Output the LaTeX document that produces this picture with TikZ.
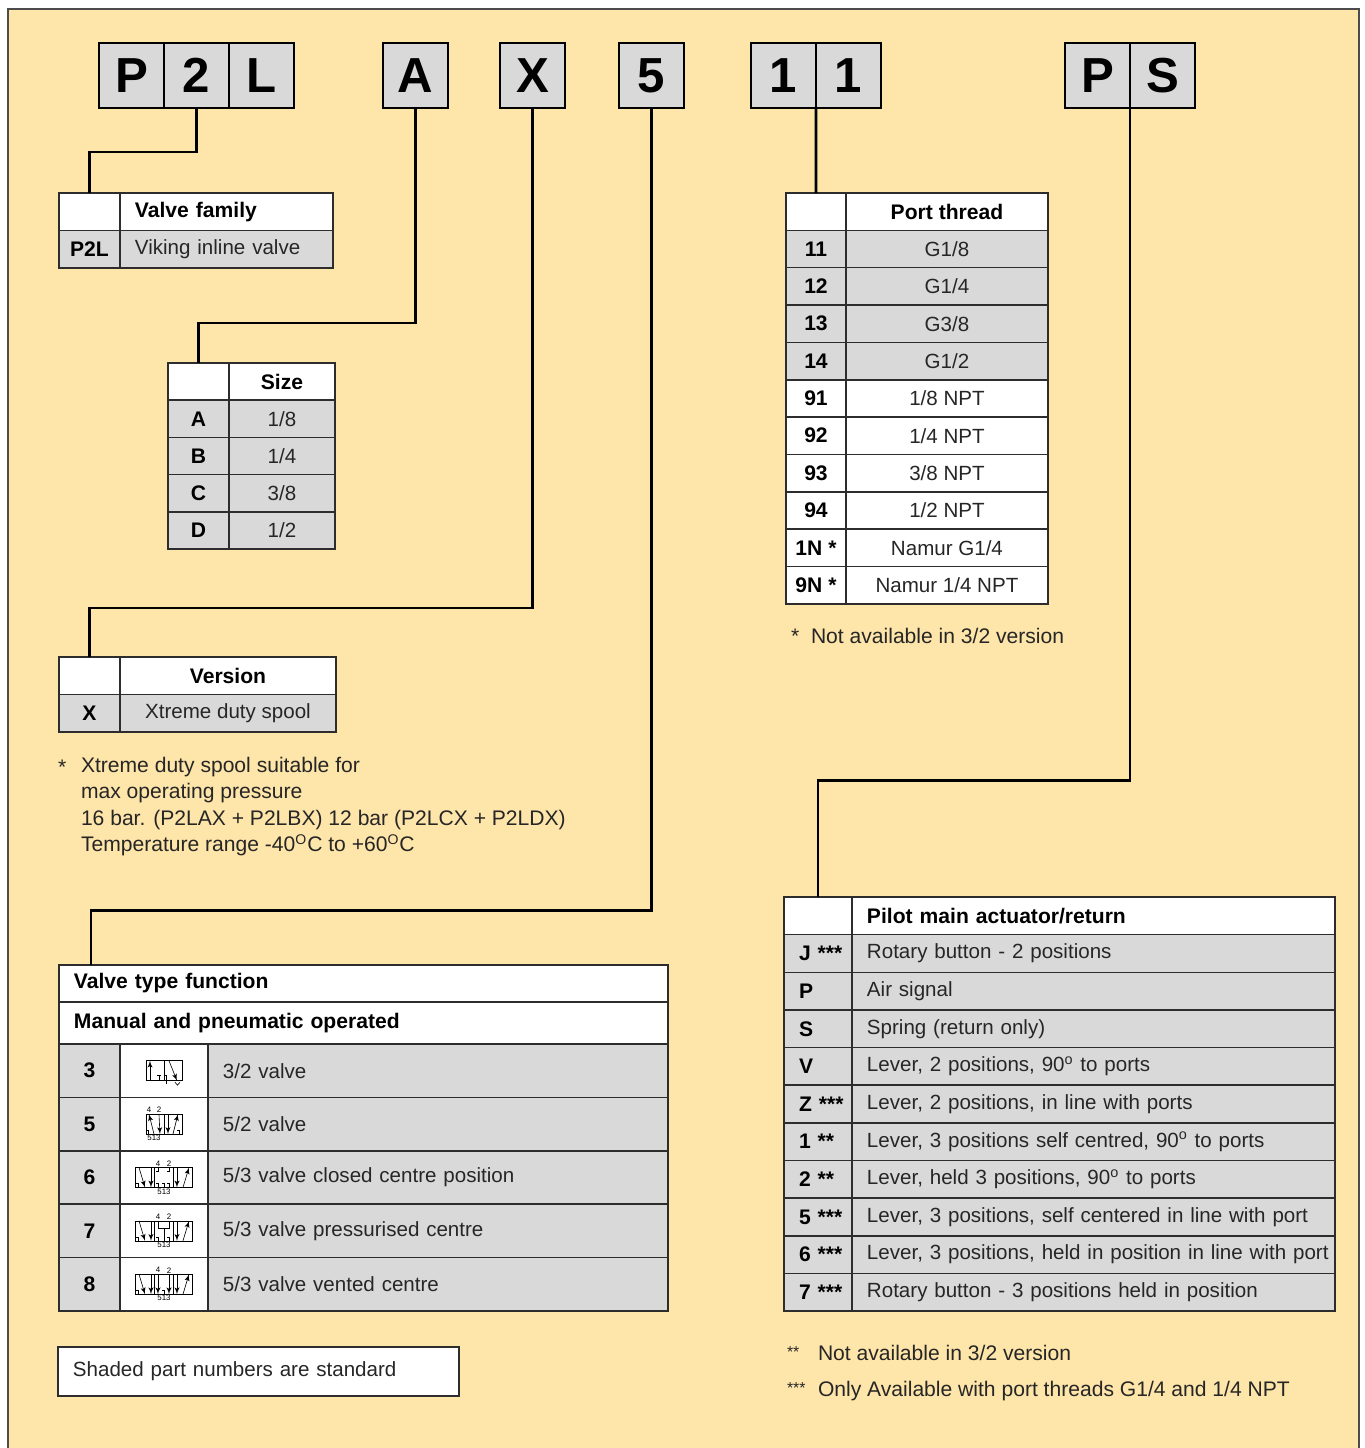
\documentclass[tikz,border=0pt]{standalone}
\usepackage{fontspec}
\setmainfont{Liberation Sans}
\usetikzlibrary{positioning}
\usetikzlibrary{arrows}
\definecolor{bgyellow}{RGB}{254,229,170}
\definecolor{cellgrey}{RGB}{217,217,217}
\definecolor{rulecol}{RGB}{45,45,45}
\newcommand{\bodyfont}{\fontsize{11.7}{14}\selectfont}
\newcommand{\bodybold}{\fontsize{12}{14}\selectfont\bfseries}
\newcommand{\notefont}{\fontsize{12}{15.1}\selectfont}
\tikzstyle{every node}+=[inner sep=0pt, outer sep=0pt]
\tikzstyle{letterbox} = [rectangle, draw, line width=1.6pt, fill=cellgrey, minimum width=1.3cm, minimum height=1.3cm, font=\fontsize{28}{30}\selectfont\bfseries]
\tikzstyle{cell} = [rectangle, draw=rulecol, line width=0.9pt, fill=cellgrey, minimum height=0.75cm, font=\bodyfont, text=black!85]
\tikzstyle{headcell} = [cell, fill=white, font=\bodybold, text=black]
\tikzstyle{boldcell} = [font=\bodybold, text=black]
\tikzstyle{link} = [draw, line width=1.7pt]
\tikzstyle{footnote} = [font=\notefont, text=black!85, align=left]
\tikzstyle{symline} = [line width=0.35pt]
\tikzstyle{portlabel} = [font=\fontsize{4.5}{5}\selectfont]
% outer squares of a 5/3 symbol
\newcommand{\spoolframe}{%
  \draw[symline] (-28.5,-10) rectangle (28.5,10) (-9.5,-10) -- (-9.5,10) (9.5,-10) -- (9.5,10);
  \draw[symline, -latex'] (-25,-10) -- (-19,10);
  \draw[symline, -latex'] (-13,-10) -- (-13,10);
  \draw[symline] (-26,10) -- (-26,6) (-27.5,6) -- (-24.5,6);
  \draw[symline, -latex'] (13,-10) -- (13,10);
  \draw[symline, -latex'] (19,10) -- (25,-10);
  \node[portlabel] (-p4) at (-6,-14) {4};
  \node[portlabel] (-p2) at (5,-14) {2};
  \node[portlabel] (-p513) at (0,14) {513};
}
\tikzset{
  lefttext/.style={text width=#1, inner xsep=0.3cm, align=left},
  pics/spoolthree/.style={code={
    \draw[symline] (-18,-10) rectangle (18,10) (0,-10) -- (0,10);
    \draw[symline, -latex'] (-14,10) -- (-14,-10);
    \draw[symline] (-5,10) -- (-5,5) (-7,5) -- (-3,5);
    \draw[symline] (2,13) -- (2,5) (0.5,5) -- (3.5,5);
    \draw[symline, -latex'] (5,-10) -- (13,10);
    \draw[symline] (11,11.5) -- (13.5,14.5) -- (16,11.5);
  }},
  pics/spoolfive/.style={code={
    \draw[symline] (-18,-10) rectangle (18,10) (0,-10) -- (0,10);
    \draw[symline, -latex'] (-10,10) -- (-15,-10);
    \draw[symline, -latex'] (-5,-10) -- (-4,10);
    \draw[symline] (-16,10) -- (-16,6) (-17.5,6) -- (-14.5,6);
    \draw[symline, -latex'] (4,-10) -- (4,10);
    \draw[symline, -latex'] (9,10) -- (14,-10);
    \draw[symline] (15,10) -- (15,6) (13.5,6) -- (16.5,6);
    \node[portlabel] (-p4) at (-15,-14) {4};
    \node[portlabel] (-p2) at (-5,-14) {2};
    \node[portlabel] (-p513) at (-10,14) {513};
  }},
  pics/spoolclosed/.style={code={
    \spoolframe
    \draw[symline] (-6,-10) -- (-6,-6) (-7.5,-6) -- (-4.5,-6) (5,-10) -- (5,-6) (3.5,-6) -- (6.5,-6);
    \draw[symline] (-6,10) -- (-6,6) (-7.5,6) -- (-4.5,6) (0,10) -- (0,6) (-1.5,6) -- (1.5,6) (5,10) -- (5,6) (3.5,6) -- (6.5,6);
  }},
  pics/spoolpress/.style={code={
    \spoolframe
    \draw[symline] (-6,-10) -- (-6,-3) -- (5,-3) -- (5,-10) (0,-3) -- (0,10);
    \draw[symline] (-6,10) -- (-6,6) (-7.5,6) -- (-4.5,6) (5,10) -- (5,6) (3.5,6) -- (6.5,6);
  }},
  pics/spoolvent/.style={code={
    \spoolframe
    \draw[symline, -latex'] (-6,-10) -- (-6,10);
    \draw[symline, -latex'] (5,-10) -- (5,10);
    \draw[symline] (0,10) -- (0,6) (-1.5,6) -- (1.5,6);
  }},
}

\begin{document}
\begin{tikzpicture}[x=0.02cm, y=-0.02cm]
  \useasboundingbox (0,0) rectangle (1365,1448);
  \fill[bgyellow] (8,9) rectangle (1359,1448);
  \draw[black!70, line width=0.8pt] (8,1448) -- (8,9) -- (1359,9) -- (1359,1448);

  % Place code letters
  \node [letterbox] (cP) at (131.5,75.5) {P};
  \node [letterbox, right=0pt of cP] (c2) {2};
  \node [letterbox, right=0pt of c2] (cL) {L};
  \node [letterbox] (cA) at (415.5,75.5) {A};
  \node [letterbox] (cX) at (532.5,75.5) {X};
  \node [letterbox] (c5) at (651.5,75.5) {5};
  \node [letterbox] (c1a) at (783.5,75.5) {1};
  \node [letterbox, right=0pt of c1a] (c1b) {1};
  \node [letterbox] (cPa) at (1097.5,75.5) {P};
  \node [letterbox, right=0pt of cPa] (cSb) {S};

  % Valve family
  \node [headcell, anchor=north west, minimum width=1.22cm] (fam0) at (59,193) {};
  \node [headcell, lefttext=3.66cm, right=0pt of fam0] (famt0) {Valve family};
  \node [cell, boldcell, minimum width=1.22cm, below=0pt of fam0] (fam1) {P2L};
  \node [cell, lefttext=3.66cm, right=0pt of fam1] (famt1) {Viking inline valve};

  % Size
  \node [headcell, anchor=north west, minimum width=1.22cm, minimum height=0.744cm] (sz0) at (168,363) {};
  \node [headcell, minimum width=2.12cm, minimum height=0.744cm, right=0pt of sz0] (szt0) {Size};
  \foreach \k/\n/\v [remember=\k as \p (initially 0)] in {1/A/{1/8}, 2/B/{1/4}, 3/C/{3/8}, 4/D/{1/2}} {
    \node [cell, boldcell, minimum width=1.22cm, minimum height=0.744cm, below=0pt of sz\p] (sz\k) {\n};
    \node [cell, minimum width=2.12cm, minimum height=0.744cm, right=0pt of sz\k] (szt\k) {\v};
  }

  % Version
  \node [headcell, anchor=north west, minimum width=1.22cm] (ver0) at (59,657) {};
  \node [headcell, minimum width=4.32cm, right=0pt of ver0] (vert0) {Version};
  \node [cell, boldcell, minimum width=1.22cm, below=0pt of ver0] (ver1) {X};
  \node [cell, minimum width=4.32cm, right=0pt of ver1] (vert1) {Xtreme duty spool};
  \node [footnote, anchor=north west] (verstar) at (58,760) {*};
  \node [footnote, anchor=north west] (vernote) at (81,757) {Xtreme duty spool suitable for\\max operating pressure\\16 bar. (P2LAX + P2LBX) 12 bar (P2LCX + P2LDX)\\Temperature range -40\textsuperscript{O}C to +60\textsuperscript{O}C};

  % Valve type function
  \node [headcell, anchor=north west, minimum width=12.18cm, minimum height=0.74cm, lefttext=11.58cm] (vtf1) at (59,965) {Valve type function};
  \node [headcell, minimum width=12.18cm, minimum height=0.84cm, lefttext=11.58cm, below=0pt of vtf1] (vtf2) {Manual and pneumatic operated};
  \node [cell, boldcell, anchor=north west, minimum width=1.22cm, minimum height=1.068cm] (vt3) at (vtf2.south west) {3};
  \node [cell, fill=white, minimum width=1.76cm, minimum height=1.068cm, right=0pt of vt3] (vs3) {};
  \node [cell, minimum height=1.068cm, lefttext=8.6cm, right=0pt of vs3] (vd3) {3/2 valve};
  \foreach \k/\t [remember=\k as \p (initially 3)] in {5/{5/2 valve}, 6/{5/3 valve closed centre position}, 7/{5/3 valve pressurised centre}, 8/{5/3 valve vented centre}} {
    \node [cell, boldcell, minimum width=1.22cm, minimum height=1.068cm, below=0pt of vt\p] (vt\k) {\k};
    \node [cell, fill=white, minimum width=1.76cm, minimum height=1.068cm, right=0pt of vt\k] (vs\k) {};
    \node [cell, minimum height=1.068cm, lefttext=8.6cm, right=0pt of vs\k] (vd\k) {\t};
  }
  \pic (sy3) at (vs3.center) {spoolthree};
  \pic (sy5) at (vs5.center) {spoolfive};
  \pic (sy6) at (vs6.center) {spoolclosed};
  \pic (sy7) at (vs7.center) {spoolpress};
  \pic (sy8) at (vs8.center) {spoolvent};
  \node [cell, fill=white, anchor=north west, minimum height=0.98cm, lefttext=7.42cm] (std) at (58,1347) {Shaded part numbers are standard};

  % Port thread
  \node [headcell, anchor=north west, minimum width=1.2cm, minimum height=0.747cm] (pt0) at (786,193) {};
  \node [headcell, minimum width=4.04cm, minimum height=0.747cm, right=0pt of pt0] (ptt0) {Port thread};
  \foreach \k/\n/\v/\f [remember=\k as \p (initially 0)] in {1/11/{G1/8}/cellgrey, 2/12/{G1/4}/cellgrey, 3/13/{G3/8}/cellgrey, 4/14/{G1/2}/cellgrey, 5/91/{1/8 NPT}/white, 6/92/{1/4 NPT}/white, 7/93/{3/8 NPT}/white, 8/94/{1/2 NPT}/white, 9/{1N *}/{Namur G1/4}/white, 10/{9N *}/{Namur 1/4 NPT}/white} {
    \node [cell, boldcell, fill=\f, minimum width=1.2cm, minimum height=0.747cm, below=0pt of pt\p] (pt\k) {\n};
    \node [cell, fill=\f, minimum width=4.04cm, minimum height=0.747cm, right=0pt of pt\k] (ptt\k) {\v};
  }
  \node [footnote, anchor=base west] (ptstar) at (791,643) {*};
  \node [footnote, anchor=base west] (ptnote) at (811,643) {Not available in 3/2 version};

  % Pilot main actuator
  \node [headcell, anchor=north west, minimum width=1.36cm, minimum height=0.753cm] (pil0) at (784,897) {};
  \node [headcell, minimum height=0.753cm, lefttext=9.06cm, right=0pt of pil0] (pilt0) {Pilot main actuator/return};
  \foreach \k/\n/\t [remember=\k as \p (initially 0)] in {1/{J~***}/{Rotary button - 2 positions}, 2/P/{Air signal}, 3/S/{Spring (return only)}, 4/V/{Lever, 2 positions, 90\textsuperscript{o} to ports}, 5/{Z~***}/{Lever, 2 positions, in line with ports}, 6/{1~**}/{Lever, 3 positions self centred, 90\textsuperscript{o} to ports}, 7/{2~**}/{Lever, held 3 positions, 90\textsuperscript{o} to ports}, 8/{5~***}/{Lever, 3 positions, self centered in line with port}, 9/{6~***}/{Lever, 3 positions, held in position in line with port}, 10/{7~***}/{Rotary button - 3 positions held in position}} {
    \node [cell, boldcell, minimum height=0.753cm, lefttext=0.76cm, below=0pt of pil\p] (pil\k) {\n};
    \node [cell, minimum height=0.753cm, lefttext=9.06cm, right=0pt of pil\k] (pilt\k) {\mbox{\t}};
  }
  \node [footnote, anchor=base west] (pilstar2) at (787,1357) {\fontsize{9}{10}\selectfont **};
  \node [footnote, anchor=base west] (pilnote2) at (818,1360) {Not available in 3/2 version};
  \node [footnote, anchor=base west] (pilstar3) at (787,1393) {\fontsize{9}{10}\selectfont ***};
  \node [footnote, anchor=base west] (pilnote3) at (818,1396) {Only Available with port threads G1/4 and 1/4 NPT};

  % Draw connectors
  \path [link] (c2.south) -- ++(0,44) -| (fam0.north);
  \path [link] (cA.south) -- ++(0,215) -| (sz0.north);
  \path [link] (cX.south) -- ++(0,500) -| (ver0.north);
  \path [link] (c5.south) -- ++(0,802) -| ([xshift=0.64cm]vtf1.north west);
  \path [link] (c1a.south east) -- (pt0.north);
  \path [link] (cPa.south east) -- ++(0,672) -| (pil0.north);
\end{tikzpicture}
\end{document}
